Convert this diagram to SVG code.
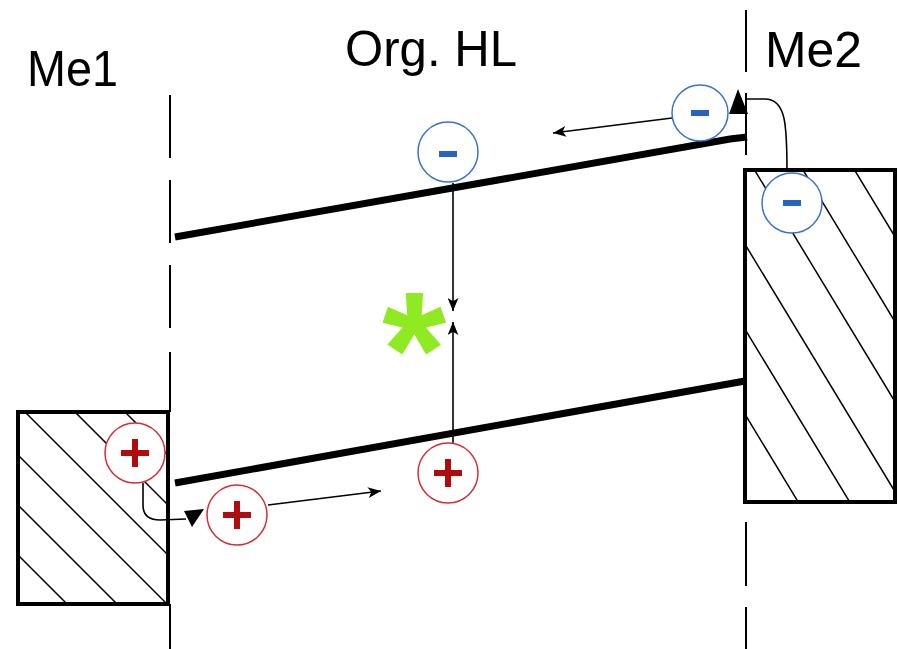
<svg xmlns="http://www.w3.org/2000/svg" width="899" height="649" viewBox="0 0 899 649">
  <style>
    .label { font-family: "Liberation Sans", Arial, sans-serif; font-size: 50px; fill: #000; }
    .guide { stroke: #000; stroke-width: 2; fill: none; }
    .metal { fill: #fff; stroke: #000; stroke-width: 4; }
    .hatch { stroke: #000; stroke-width: 1.5; fill: none; }
    .level { stroke: #000; stroke-width: 7; stroke-linecap: butt; fill: none; }
    .wire { stroke: #000; stroke-width: 1.6; fill: none; }
    .hole circle { fill: #fff; stroke: #d0303a; stroke-width: 1.5; }
    .hole path { stroke: #b00c10; stroke-width: 6; fill: none; }
    .electron circle { fill: #fff; stroke: #3a72cc; stroke-width: 1.5; }
    .electron path { stroke: #2a62c0; stroke-width: 6; fill: none; }
    .exciton { font-family: "Liberation Sans", Arial, sans-serif; font-weight: bold; font-size: 165px; fill: #8fea22; }
  </style>
  <defs>
    <marker id="head" viewBox="0 0 12 10" markerWidth="13" markerHeight="11" markerUnits="userSpaceOnUse" refX="12" refY="5" orient="auto">
      <path d="M0,0 L12,5 L0,10 L3,5 Z" fill="#000"/>
    </marker>
    <clipPath id="clip-me1"><rect x="18" y="412" width="150" height="192"/></clipPath>
    <clipPath id="clip-me2"><rect x="745" y="170" width="150" height="332"/></clipPath>
  </defs>

  <rect width="899" height="649" fill="#fff"/>

  <!-- interface guides -->
  <g id="interfaces">
    <path class="guide" d="M170,95 V158 M170,180 V243 M170,265 V328 M170,352 V412 M170,604 V649"/>
    <path class="guide" d="M746,10 V72 M746,93 V155 M746,522 V586 M746,607 V649"/>
  </g>

  <!-- labels -->
  <g id="labels">
    <text class="label" x="27" y="86" textLength="91" lengthAdjust="spacingAndGlyphs">Me1</text>
    <text class="label" x="345" y="66" textLength="172" lengthAdjust="spacingAndGlyphs">Org. HL</text>
    <text class="label" x="765" y="67" textLength="97" lengthAdjust="spacingAndGlyphs">Me2</text>
  </g>

  <!-- left electrode -->
  <g id="me1">
    <rect class="metal" x="18" y="412" width="150" height="192"/>
    <g clip-path="url(#clip-me1)">
      <path class="hatch" d="M0,287 L400,687 M0,337 L400,737 M0,387 L400,787 M0,437 L400,837 M0,487 L400,887 M0,537 L400,937"/>
    </g>
  </g>

  <!-- right electrode -->
  <g id="me2">
    <rect class="metal" x="745" y="170" width="150" height="332"/>
    <g clip-path="url(#clip-me2)">
      <path class="hatch" d="M700,-85 L960,344 M700,0 L960,429 M700,80 L960,509 M700,170 L960,599 M700,255 L960,684 M700,340 L960,769"/>
    </g>
  </g>

  <!-- transport levels of the organic layer -->
  <g id="levels">
    <path class="level" d="M175,237 L730,139 L747,137"/>
    <path class="level" d="M175,483 L745,381"/>
  </g>

  <!-- connectors -->
  <g id="connectors">
    <path class="wire" d="M453,183 V311" marker-end="url(#head)"/>
    <path class="wire" d="M453,443 V322" marker-end="url(#head)"/>
    <path class="wire" d="M672,118 L553,133" marker-end="url(#head)"/>
    <path class="wire" d="M268,505 L381,491" marker-end="url(#head)"/>
    <path class="wire" d="M787,172 C787,125 786,99 765,99 L747,99"/>
    <path d="M738,89 L748,114 L729,114 Z" fill="#000"/>
    <path class="wire" d="M143,483 V505 C143,516 150,520 160,520 L186,519"/>
    <path d="M184,511 L204,509 L192,527 Z" fill="#000"/>
  </g>

  <!-- exciton -->
  <g id="exciton">
    <text class="exciton" x="414" y="407" text-anchor="middle">*</text>
  </g>

  <!-- charges -->
  <g id="e-top" class="electron">
    <circle cx="700" cy="113" r="28"/>
    <path d="M691,113 H709"/>
  </g>
  <g id="e-me2" class="electron">
    <circle cx="792" cy="203" r="30"/>
    <path d="M783,203 H801"/>
  </g>
  <g id="e-mid" class="electron">
    <circle cx="448" cy="152" r="30"/>
    <path d="M439,154 H457"/>
  </g>
  <g id="h-me1" class="hole">
    <circle cx="135" cy="453" r="30"/>
    <path d="M121,453 H149 M135,439 V467"/>
  </g>
  <g id="h-left" class="hole">
    <circle cx="237" cy="515" r="30"/>
    <path d="M223,515 H251 M237,501 V529"/>
  </g>
  <g id="h-mid" class="hole">
    <circle cx="448" cy="473" r="30"/>
    <path d="M434,473 H462 M448,459 V487"/>
  </g>
</svg>
